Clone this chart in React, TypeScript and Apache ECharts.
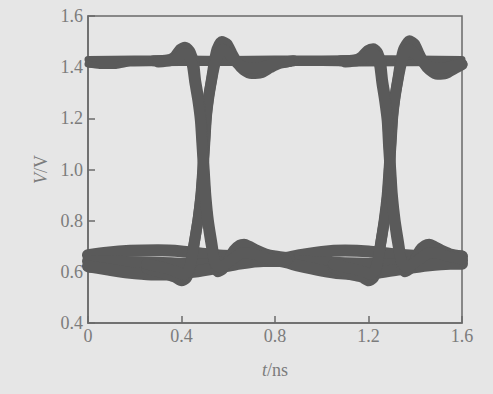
import React, { useEffect, useRef } from "react";
import * as echarts from "echarts";

const xTicks = [0, 0.4, 0.8, 1.2, 1.6];
const yTicks = [0.4, 0.6, 0.8, 1.0, 1.2, 1.4, 1.6];

// high level band
const hiTop = [[0,1.43],[0.2,1.432],[0.4,1.432],[0.6,1.43],[0.8,1.432],[1.0,1.432],[1.2,1.433],[1.4,1.432],[1.6,1.43]];
const hiBot = [[0,1.412],[0.05,1.407],[0.12,1.407],[0.18,1.416],[0.4,1.418],[0.8,1.418],[1.0,1.418],[1.15,1.416],[1.6,1.418]];

// low level band
const loTop = [[0,0.665],[0.08,0.675],[0.18,0.682],[0.3,0.684],[0.4,0.68],[0.48,0.672],[0.56,0.664],[0.65,0.66],[0.75,0.652],[0.82,0.65],[0.9,0.664],[1.0,0.678],[1.1,0.683],[1.2,0.68],[1.28,0.672],[1.36,0.665],[1.45,0.66],[1.53,0.66],[1.6,0.66]];
const loMid = [[0,0.642],[0.1,0.64],[0.2,0.637],[0.3,0.636],[0.4,0.632],[0.5,0.63],[0.6,0.64],[0.7,0.645],[0.8,0.648],[0.9,0.642],[1.0,0.636],[1.1,0.634],[1.2,0.632],[1.3,0.63],[1.4,0.638],[1.5,0.642],[1.6,0.645]];
const loBot = [[0,0.622],[0.08,0.61],[0.17,0.597],[0.27,0.59],[0.36,0.59],[0.45,0.6],[0.55,0.615],[0.65,0.632],[0.75,0.642],[0.82,0.642],[0.9,0.624],[1.0,0.605],[1.08,0.594],[1.17,0.59],[1.25,0.598],[1.35,0.612],[1.45,0.625],[1.55,0.632],[1.6,0.632]];

// first crossing
const rise1a = [[0.25,0.615],[0.32,0.595],[0.37,0.58],[0.4,0.565],[0.42,0.575],[0.438,0.62],[0.452,0.7],[0.47,0.8],[0.483,0.9],[0.491,1.0],[0.498,1.1],[0.505,1.2],[0.515,1.28],[0.528,1.35],[0.54,1.42],[0.552,1.47],[0.572,1.5],[0.595,1.49],[0.615,1.455],[0.64,1.415],[0.665,1.39],[0.7,1.375],[0.74,1.378],[0.78,1.398],[0.82,1.415],[0.88,1.425]];
const rise1b = [[0.25,0.63],[0.33,0.615],[0.38,0.6],[0.41,0.59],[0.43,0.605],[0.443,0.65],[0.456,0.72],[0.472,0.81],[0.485,0.91],[0.493,1.01],[0.5,1.11],[0.507,1.21],[0.518,1.29],[0.531,1.36],[0.545,1.42],[0.56,1.455],[0.575,1.47],[0.594,1.46],[0.615,1.44],[0.64,1.415],[0.67,1.4],[0.71,1.395],[0.75,1.402],[0.8,1.414],[0.86,1.422]];
const fall1a = [[0.28,1.425],[0.34,1.428],[0.37,1.44],[0.395,1.47],[0.415,1.478],[0.435,1.462],[0.445,1.44],[0.452,1.42],[0.46,1.35],[0.473,1.28],[0.484,1.2],[0.49,1.1],[0.497,1.0],[0.504,0.9],[0.515,0.8],[0.532,0.7],[0.544,0.625],[0.556,0.6],[0.575,0.61],[0.6,0.645],[0.625,0.685],[0.65,0.705],[0.668,0.708],[0.69,0.7],[0.72,0.685],[0.76,0.67],[0.8,0.662],[0.86,0.655]];
const fall1b = [[0.3,1.42],[0.35,1.425],[0.38,1.435],[0.405,1.452],[0.425,1.452],[0.44,1.43],[0.448,1.4],[0.457,1.34],[0.47,1.27],[0.481,1.19],[0.488,1.09],[0.495,0.99],[0.502,0.89],[0.513,0.79],[0.53,0.69],[0.542,0.64],[0.555,0.62],[0.575,0.622],[0.6,0.637],[0.63,0.658],[0.66,0.675],[0.69,0.675],[0.73,0.663],[0.78,0.65],[0.85,0.645]];

// second crossing
const rise2a = [[1.05,0.615],[1.12,0.59],[1.17,0.58],[1.2,0.565],[1.22,0.575],[1.236,0.62],[1.25,0.7],[1.267,0.8],[1.28,0.9],[1.288,1.0],[1.295,1.1],[1.302,1.2],[1.312,1.28],[1.325,1.35],[1.337,1.42],[1.35,1.47],[1.375,1.503],[1.397,1.49],[1.415,1.455],[1.437,1.415],[1.46,1.39],[1.495,1.372],[1.53,1.375],[1.57,1.395],[1.6,1.41]];
const rise2b = [[1.05,0.63],[1.13,0.612],[1.18,0.6],[1.21,0.59],[1.228,0.605],[1.241,0.65],[1.254,0.72],[1.27,0.81],[1.283,0.91],[1.29,1.01],[1.297,1.11],[1.304,1.21],[1.315,1.29],[1.328,1.36],[1.342,1.42],[1.356,1.455],[1.372,1.47],[1.392,1.46],[1.414,1.44],[1.44,1.415],[1.47,1.4],[1.51,1.395],[1.55,1.402],[1.6,1.412]];
const fall2a = [[1.08,1.425],[1.14,1.428],[1.17,1.44],[1.197,1.465],[1.22,1.472],[1.238,1.458],[1.246,1.44],[1.252,1.42],[1.26,1.35],[1.272,1.28],[1.282,1.2],[1.288,1.1],[1.295,1.0],[1.302,0.9],[1.314,0.8],[1.331,0.7],[1.343,0.625],[1.356,0.6],[1.375,0.61],[1.398,0.645],[1.42,0.685],[1.442,0.703],[1.46,0.708],[1.48,0.7],[1.51,0.685],[1.55,0.67],[1.6,0.662]];
const fall2b = [[1.1,1.42],[1.15,1.425],[1.18,1.435],[1.205,1.45],[1.228,1.45],[1.242,1.43],[1.249,1.4],[1.257,1.34],[1.269,1.27],[1.28,1.19],[1.286,1.09],[1.293,0.99],[1.3,0.89],[1.312,0.79],[1.329,0.69],[1.342,0.64],[1.356,0.62],[1.375,0.622],[1.4,0.637],[1.43,0.658],[1.46,0.675],[1.49,0.675],[1.53,0.663],[1.6,0.65]];

const TRACE = "#5a5a5a";
const AXIS = "#6a6a6a";
const TEXT = "#7c7c7c";
const FONT = "'Liberation Serif', 'DejaVu Serif', serif";

export default function App() {
  const ref = useRef<HTMLDivElement>(null);
  useEffect(() => {
    if (!ref.current) return;
    const chart = echarts.init(ref.current, null, { renderer: "svg" });
    const mk = (data: number[][], width: number) => ({
      type: "line",
      data,
      showSymbol: false,
      symbol: "none",
      smooth: 0.2,
      silent: true,
      lineStyle: { color: TRACE, width, cap: "round", join: "round" },
    });
    chart.setOption({
      animation: false,
      backgroundColor: "#e6e6e6",
      grid: {
        left: 88, right: 31, top: 16, bottom: 71,
        show: true, borderColor: AXIS, borderWidth: 1.5,
      },
      xAxis: {
        type: "value",
        min: xTicks[0], max: xTicks[xTicks.length - 1], interval: 0.4,
        name: "{i|t}/ns",
        nameLocation: "middle",
        nameGap: 38,
        nameTextStyle: {
          color: TEXT, fontFamily: FONT, fontSize: 18,
          rich: { i: { fontStyle: "italic", color: TEXT, fontFamily: FONT, fontSize: 18 } },
        },
        axisLine: { show: true, lineStyle: { color: AXIS, width: 1.5 } },
        axisTick: { show: true, inside: true, length: 7, lineStyle: { color: AXIS, width: 1.5 } },
        splitLine: { show: false },
        axisLabel: {
          color: TEXT, fontFamily: FONT, fontSize: 18, margin: 4,
          formatter: (v: number) => (v === 0 ? "0" : v.toFixed(1)),
        },
      },
      yAxis: {
        type: "value",
        min: yTicks[0], max: yTicks[yTicks.length - 1], interval: 0.2,
        name: "{i|V}/V",
        nameLocation: "middle",
        nameGap: 36,
        nameTextStyle: {
          color: TEXT, fontFamily: FONT, fontSize: 18,
          rich: { i: { fontStyle: "italic", color: TEXT, fontFamily: FONT, fontSize: 18 } },
        },
        axisLine: { show: true, lineStyle: { color: AXIS, width: 1.5 } },
        axisTick: { show: true, inside: true, length: 7, lineStyle: { color: AXIS, width: 1.5 } },
        splitLine: { show: false },
        axisLabel: {
          color: TEXT, fontFamily: FONT, fontSize: 18, margin: 5,
          formatter: (v: number) => v.toFixed(1),
        },
      },
      series: [
        mk(loTop, 12), mk(loMid, 12), mk(loBot, 12),
        mk(hiTop, 7), mk(hiBot, 7),
        mk(rise1a, 11), mk(rise1b, 11), mk(fall1a, 11), mk(fall1b, 11),
        mk(rise2a, 11), mk(rise2b, 11), mk(fall2a, 11), mk(fall2b, 11),
      ],
    });
    return () => chart.dispose();
  }, []);
  return (
    <div
      ref={ref}
      style={{ position: "fixed", left: 0, top: 0, width: 493, height: 394 }}
    />
  );
}
